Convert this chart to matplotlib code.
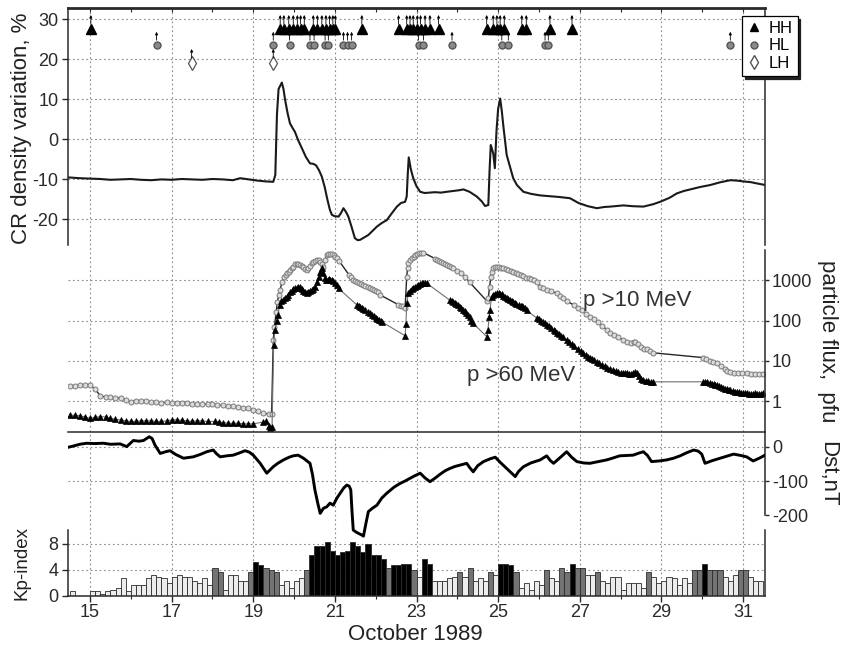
import numpy as np
import matplotlib
matplotlib.use("Agg")
import matplotlib.pyplot as plt
from matplotlib.lines import Line2D

plt.rcParams["font.family"] = ["Liberation Sans", "DejaVu Sans"]
plt.rcParams["axes.unicode_minus"] = False

# ---------------------------------------------------------------- data
# Cosmic-ray density variation (%), day of October 1989
CR = [
    (14.46, -9.6), (14.75, -9.8), (15.0, -9.9), (15.25, -10.0), (15.5, -10.2),
    (15.75, -10.1), (16.0, -10.0), (16.25, -10.2), (16.5, -10.3), (16.75, -10.1),
    (17.0, -10.2), (17.25, -10.0), (17.5, -10.1), (17.75, -10.2), (18.0, -10.0),
    (18.25, -10.1), (18.5, -10.3), (18.68, -9.8), (18.9, -10.1), (19.1, -10.4),
    (19.3, -10.6), (19.49, -10.7), (19.54, -9.0), (19.58, 6.0), (19.62, 12.5),
    (19.70, 14.1), (19.74, 12.5), (19.78, 9.8), (19.84, 6.5), (19.90, 3.9),
    (19.96, 2.8), (20.02, 1.8), (20.10, -0.3), (20.19, -2.3), (20.29, -4.5),
    (20.39, -6.1), (20.47, -6.2), (20.54, -6.6), (20.61, -7.8), (20.68, -9.4),
    (20.75, -12.0), (20.82, -15.3), (20.88, -17.8), (20.93, -19.0), (21.00, -19.3),
    (21.09, -19.4), (21.15, -18.5), (21.21, -17.3), (21.27, -18.2), (21.33, -19.4),
    (21.41, -22.0), (21.49, -24.8), (21.56, -25.3), (21.62, -25.2), (21.72, -24.6),
    (21.82, -24.0), (21.92, -23.0), (22.03, -21.9), (22.15, -21.0), (22.27, -20.3),
    (22.40, -18.5), (22.52, -16.9), (22.62, -16.0), (22.72, -15.7), (22.76, -14.4),
    (22.79, -8.0), (22.81, -4.6), (22.83, -5.8), (22.86, -7.5), (22.92, -9.8),
    (23.00, -11.8), (23.09, -13.2), (23.20, -13.5), (23.33, -13.4), (23.45, -13.3),
    (23.60, -13.4), (23.74, -13.2), (23.90, -13.0), (24.05, -12.8), (24.15, -12.6),
    (24.30, -13.2), (24.48, -14.4), (24.60, -15.6), (24.68, -16.75), (24.76, -16.5),
    (24.79, -8.0), (24.82, -1.5), (24.85, -2.5), (24.88, -3.6), (24.92, -7.3),
    (24.96, 2.0), (25.00, 7.5), (25.05, 10.1), (25.09, 7.0), (25.13, 3.1),
    (25.17, -0.5), (25.21, -4.0), (25.28, -6.5), (25.37, -9.8), (25.46, -11.5),
    (25.62, -13.2), (25.80, -13.7), (26.03, -14.1), (26.27, -14.3), (26.50, -14.5),
    (26.76, -14.8), (26.97, -16.0), (27.20, -16.8), (27.42, -17.3), (27.60, -17.0),
    (27.75, -16.9), (28.07, -16.6), (28.30, -16.8), (28.56, -16.9), (28.80, -16.3),
    (28.97, -15.7), (29.20, -14.7), (29.38, -13.6), (29.55, -13.0), (29.71, -12.6),
    (29.95, -12.0), (30.20, -11.5), (30.45, -10.8), (30.69, -10.3), (30.85, -10.4),
    (31.01, -10.6), (31.20, -10.8), (31.34, -11.1), (31.54, -11.5),
]

# GLE / FD event onsets grouped by class
HH_DAYS = [15.02, 19.66, 19.75, 19.87, 19.98, 20.08, 20.16, 20.25, 20.47, 20.57,
           20.68, 20.78, 20.87, 20.95, 21.01, 21.66, 22.56, 22.76, 22.84, 22.92,
           23.02, 23.10, 23.21, 23.33, 23.54, 24.72, 24.88, 24.97, 25.05, 25.15,
           25.58, 25.69, 26.27, 26.81]
HL_DAYS = [16.63, 19.49, 19.89, 20.39, 20.49, 20.76, 20.84, 21.21, 21.31, 21.41,
           23.05, 23.17, 23.87, 25.09, 25.25, 26.15, 26.23, 30.69]
LH_DAYS = [17.49, 19.49]

# GOES proton flux, pfu
P10 = [
    (14.50, 2.35), (14.62, 2.40), (14.75, 2.45), (14.88, 2.50), (15.00, 2.50),
    (15.12, 2.00), (15.25, 1.35), (15.38, 1.25), (15.50, 1.23), (15.62, 1.20),
    (15.75, 1.17), (15.88, 1.07), (16.00, 0.96), (16.12, 1.00), (16.25, 1.02),
    (16.38, 1.00), (16.50, 0.95), (16.62, 0.93), (16.75, 0.91), (16.88, 0.93),
    (17.00, 0.91), (17.12, 0.89), (17.25, 0.91), (17.38, 0.87), (17.50, 0.84),
    (17.62, 0.85), (17.75, 0.83), (17.88, 0.84), (18.00, 0.83), (18.12, 0.79),
    (18.25, 0.78), (18.38, 0.76), (18.50, 0.74), (18.62, 0.71), (18.75, 0.68),
    (18.88, 0.66), (19.00, 0.60), (19.12, 0.55), (19.25, 0.49), (19.38, 0.48),
    (19.45, 0.47), (19.49, 33), (19.52, 71), (19.56, 160), (19.59, 295),
    (19.63, 430), (19.66, 577), (19.70, 900), (19.75, 1240), (19.79, 1400),
    (19.83, 1500), (19.87, 1650), (19.90, 1820), (19.94, 2000), (19.98, 2200),
    (20.02, 2500), (20.06, 2550), (20.10, 2500), (20.15, 2450), (20.19, 2250),
    (20.23, 2100), (20.27, 1950), (20.31, 1820), (20.35, 2000), (20.39, 2300),
    (20.43, 2700), (20.47, 2900), (20.52, 3100), (20.56, 3300), (20.60, 3200),
    (20.64, 2900), (20.68, 2600), (20.72, 2200), (20.76, 3200), (20.80, 4300),
    (20.84, 4500), (20.88, 4600), (20.92, 4500), (20.97, 4200), (21.01, 3900),
    (21.05, 3550), (21.10, 3100), (21.35, 1350), (21.40, 1200), (21.45, 1050),
    (21.50, 980), (21.55, 930), (21.60, 880), (21.65, 820), (21.70, 760),
    (21.75, 720), (21.80, 680), (21.85, 640), (21.90, 600), (21.95, 570),
    (22.00, 545), (22.05, 520), (22.10, 440), (22.55, 250), (22.62, 235),
    (22.68, 225), (22.72, 205), (22.76, 1230), (22.78, 2000), (22.80, 2700),
    (22.84, 3200), (22.88, 3550), (22.93, 3900), (22.97, 4270), (23.02, 4600),
    (23.07, 4750), (23.12, 4850), (23.17, 4900), (23.45, 3500), (23.50, 3250),
    (23.55, 3050), (23.60, 2900), (23.65, 2750), (23.70, 2600), (23.75, 2450),
    (23.80, 2300), (23.85, 2150), (23.90, 2000), (24.00, 1750), (24.10, 1500),
    (24.20, 1200), (24.30, 900), (24.72, 310), (24.76, 360), (24.79, 690),
    (24.82, 1200), (24.85, 1600), (24.88, 2000), (24.92, 2100), (24.97, 2150),
    (25.02, 2120), (25.07, 2080), (25.13, 2000), (25.19, 1900), (25.25, 1780),
    (25.31, 1700), (25.37, 1600), (25.43, 1550), (25.49, 1480), (25.55, 1400),
    (25.62, 1250), (25.68, 1180), (25.75, 1120), (25.81, 1060), (25.87, 1000),
    (25.95, 900), (26.03, 700), (26.10, 650), (26.20, 575), (26.30, 530),
    (26.44, 480), (26.52, 420), (26.60, 355), (26.70, 300), (26.85, 245),
    (26.95, 210), (27.05, 180), (27.15, 150), (27.25, 126), (27.35, 107),
    (27.45, 90), (27.55, 75), (27.66, 59), (27.75, 50), (27.85, 45),
    (27.95, 38), (28.07, 33), (28.15, 30), (28.25, 28), (28.32, 30),
    (28.36, 30), (28.42, 26), (28.50, 22), (28.57, 20), (28.64, 19.5),
    (28.72, 17.5), (28.80, 15.8), (30.03, 12), (30.10, 11), (30.18, 10),
    (30.27, 9.5), (30.36, 8.7), (30.45, 7.5), (30.55, 6.3), (30.62, 5.6),
    (30.69, 5.4), (30.78, 5.1), (30.88, 5.0), (30.98, 4.9), (31.09, 4.9),
    (31.20, 4.8), (31.30, 4.8), (31.40, 4.7), (31.50, 4.7),
]

P60 = [
    (14.50, 0.45), (14.62, 0.44), (14.75, 0.43), (14.88, 0.40), (15.00, 0.37),
    (15.12, 0.39), (15.25, 0.41), (15.38, 0.40), (15.50, 0.37), (15.62, 0.35),
    (15.75, 0.34), (15.88, 0.32), (16.00, 0.31), (16.12, 0.31), (16.25, 0.32),
    (16.38, 0.32), (16.50, 0.32), (16.62, 0.31), (16.75, 0.31), (16.88, 0.32),
    (17.00, 0.34), (17.12, 0.34), (17.25, 0.33), (17.38, 0.32), (17.50, 0.31),
    (17.62, 0.32), (17.75, 0.32), (17.88, 0.31), (18.05, 0.31), (18.15, 0.30),
    (18.25, 0.29), (18.38, 0.28), (18.50, 0.28), (18.62, 0.28), (18.75, 0.27),
    (18.88, 0.27), (19.00, 0.27), (19.25, 0.30), (19.32, 0.31), (19.38, 0.24),
    (19.42, 0.21), (19.46, 0.22), (19.50, 25), (19.53, 59), (19.57, 100),
    (19.60, 138), (19.65, 245), (19.69, 300), (19.72, 330), (19.77, 360),
    (19.82, 390), (19.86, 440), (19.90, 500), (19.94, 550), (19.98, 600),
    (20.02, 630), (20.06, 650), (20.10, 670), (20.15, 690), (20.19, 620),
    (20.23, 560), (20.27, 520), (20.31, 490), (20.35, 510), (20.40, 540),
    (20.44, 580), (20.47, 600), (20.51, 700), (20.55, 900), (20.60, 1230),
    (20.64, 1600), (20.68, 2000), (20.72, 1500), (20.75, 1150), (20.78, 1020),
    (20.82, 1050), (20.85, 1060), (20.88, 1040), (20.92, 1020), (20.96, 950),
    (21.00, 850), (21.04, 750), (21.09, 630), (21.54, 245), (21.58, 235),
    (21.62, 220), (21.66, 210), (21.70, 195), (21.75, 180), (21.80, 165),
    (21.85, 152), (21.90, 140), (21.95, 130), (22.00, 118), (22.04, 110),
    (22.08, 102), (22.12, 97), (22.15, 93), (22.72, 42), (22.74, 80),
    (22.76, 270), (22.80, 480), (22.84, 560), (22.88, 600), (22.92, 630),
    (22.96, 680), (23.00, 720), (23.04, 760), (23.08, 800), (23.13, 850),
    (23.17, 870), (23.21, 860), (23.25, 850), (23.82, 320), (23.86, 305),
    (23.90, 290), (23.94, 270), (23.98, 255), (24.02, 240), (24.06, 220),
    (24.10, 200), (24.14, 185), (24.18, 170), (24.22, 155), (24.26, 140),
    (24.30, 120), (24.34, 100), (24.39, 85), (24.72, 40), (24.75, 59),
    (24.78, 120), (24.80, 180), (24.84, 390), (24.88, 430), (24.92, 460),
    (24.97, 480), (25.01, 480), (25.05, 470), (25.09, 450), (25.13, 420),
    (25.17, 385), (25.21, 355), (25.25, 335), (25.30, 320), (25.34, 305),
    (25.37, 295), (25.41, 275), (25.45, 260), (25.50, 245), (25.55, 230),
    (25.59, 225), (25.62, 220), (25.66, 200), (25.70, 180), (25.95, 115),
    (26.00, 108), (26.05, 100), (26.10, 92), (26.15, 85), (26.20, 79),
    (26.25, 72), (26.30, 65), (26.36, 59), (26.40, 54), (26.45, 50),
    (26.50, 46), (26.55, 42), (26.60, 38), (26.68, 33), (26.74, 29),
    (26.80, 26), (26.87, 23), (26.95, 20), (27.02, 17.5), (27.09, 15.5),
    (27.15, 14), (27.20, 12.5), (27.25, 11.8), (27.30, 11), (27.36, 10.2),
    (27.42, 9.5), (27.48, 8.8), (27.55, 8.0), (27.62, 7.3), (27.68, 6.8),
    (27.75, 6.3), (27.82, 5.9), (27.88, 5.6), (27.95, 5.3), (28.00, 5.1),
    (28.05, 4.9), (28.10, 4.9), (28.15, 4.9), (28.20, 4.8), (28.25, 4.8),
    (28.30, 5.0), (28.35, 5.2), (28.40, 5.0), (28.45, 4.3), (28.50, 3.6),
    (28.56, 3.3), (28.62, 3.2), (28.68, 3.1), (28.74, 3.0), (28.80, 3.0),
    (30.03, 3.0), (30.08, 2.95), (30.13, 2.9), (30.18, 2.8), (30.23, 2.7),
    (30.28, 2.6), (30.32, 2.55), (30.36, 2.5), (30.41, 2.35), (30.45, 2.2),
    (30.50, 2.1), (30.55, 2.0), (30.60, 1.95), (30.65, 1.9), (30.69, 1.86),
    (30.75, 1.78), (30.80, 1.7), (30.85, 1.68), (30.90, 1.65), (30.95, 1.62),
    (31.00, 1.6), (31.05, 1.57), (31.09, 1.55), (31.15, 1.52), (31.20, 1.5),
    (31.25, 1.52), (31.30, 1.55), (31.35, 1.52), (31.40, 1.5), (31.45, 1.52),
    (31.50, 1.55),
]

# Dst index, nT
DST = [
    (14.46, -1), (14.60, 3), (14.75, 8), (14.92, 11), (15.10, 10), (15.33, 11),
    (15.50, 8), (15.74, 9), (15.90, 1), (16.06, 19), (16.20, 17), (16.31, 19),
    (16.45, 30), (16.52, 25), (16.59, 6), (16.72, -19), (16.85, -14), (16.96, -11),
    (17.10, -22), (17.29, -33), (17.53, -29), (17.70, -22), (17.86, -14), (18.02, -9),
    (18.10, -20), (18.19, -29), (18.35, -26), (18.51, -24), (18.65, -18), (18.80, -11),
    (18.90, -15), (19.00, -24), (19.17, -48), (19.33, -77), (19.49, -58), (19.60, -48),
    (19.74, -38), (19.88, -30), (19.98, -26), (20.10, -24), (20.23, -33), (20.39, -48),
    (20.45, -80), (20.51, -126), (20.58, -165), (20.64, -195), (20.72, -180),
    (20.80, -176), (20.88, -165), (20.96, -171), (21.05, -150), (21.13, -136),
    (21.22, -120), (21.29, -112), (21.35, -115), (21.39, -126), (21.42, -190),
    (21.45, -244), (21.52, -250), (21.58, -254), (21.65, -258), (21.70, -262),
    (21.76, -225), (21.82, -190), (21.92, -180), (22.03, -171), (22.15, -150),
    (22.27, -136), (22.45, -118), (22.60, -107), (22.72, -100), (22.84, -92),
    (22.95, -85), (23.09, -77), (23.20, -90), (23.33, -102), (23.45, -92),
    (23.58, -80), (23.70, -70), (23.82, -63), (23.95, -57), (24.07, -53),
    (24.23, -48), (24.30, -60), (24.39, -73), (24.50, -55), (24.64, -43),
    (24.80, -35), (24.93, -30), (25.05, -45), (25.21, -63), (25.32, -75),
    (25.42, -87), (25.50, -72), (25.62, -58), (25.80, -47), (26.03, -38),
    (26.19, -26), (26.28, -40), (26.36, -48), (26.50, -33), (26.68, -14),
    (26.80, -30), (26.93, -43), (27.10, -47), (27.25, -48), (27.45, -43),
    (27.66, -38), (27.80, -33), (27.98, -26), (28.15, -25), (28.31, -24),
    (28.45, -18), (28.56, -14), (28.66, -25), (28.76, -43), (28.95, -41),
    (29.13, -38), (29.30, -33), (29.46, -26), (29.62, -17), (29.79, -9),
    (29.90, -12), (29.99, -21), (30.07, -48), (30.25, -40), (30.44, -33),
    (30.60, -27), (30.77, -21), (30.95, -25), (31.09, -29), (31.25, -41),
    (31.40, -33), (31.54, -24),
]

# 3-hourly Kp, starting 14 Oct 12 UT
KP_START = 14.5
KP = [
    0.7, 0.0, 0.0, 0.0,
    0.7, 0.7, 0.3, 0.7, 1.0, 1.3, 2.7, 0.7,
    1.7, 1.7, 1.7, 2.7, 3.3, 3.0, 2.7, 2.0,
    3.0, 3.3, 3.0, 3.0, 2.3, 2.0, 2.7, 1.7,
    4.3, 3.7, 1.0, 3.3, 3.3, 2.3, 2.3, 3.7,
    5.3, 4.7, 4.3, 4.0, 3.7, 1.7, 2.3, 1.3,
    2.3, 2.7, 4.0, 6.3, 7.7, 7.7, 8.3, 7.0,
    6.3, 6.7, 7.0, 8.3, 7.7, 6.7, 8.0, 6.3,
    6.3, 5.7, 4.3, 4.7, 4.7, 5.0, 5.0, 4.0,
    3.0, 5.7, 5.0, 2.3, 2.3, 2.3, 2.7, 3.0,
    3.7, 3.0, 4.3, 2.3, 2.7, 2.3, 3.7, 3.3,
    5.0, 5.0, 4.7, 3.7, 1.3, 2.0, 1.0, 2.3,
    1.7, 4.0, 2.7, 2.3, 4.3, 3.7, 5.0, 4.3,
    4.3, 3.3, 3.3, 3.7, 2.3, 2.0, 3.0, 3.0,
    1.0, 2.0, 2.0, 2.0, 1.3, 3.7, 3.0, 2.0,
    2.3, 3.0, 2.7, 1.7, 2.7, 2.0, 4.0, 4.0,
    5.0, 4.0, 4.0, 4.0, 3.0, 2.3, 3.3, 4.0,
    4.0, 3.0, 2.3, 2.3,
]

DAY_TICKS = [15, 17, 19, 21, 23, 25, 27, 29, 31]
CR_TICKS = [30, 20, 10, 0, -10, -20]
FLUX_TICKS = [1, 10, 100, 1000]
DST_TICKS = [0, -100, -200]
KP_TICKS = [0, 4, 8]

# ---------------------------------------------------------------- layout
W, H = 845, 649
X0, X1 = 68, 765
DAY0, DAY1 = 14.46, 31.54
GRID = dict(color="#8a8a8a", lw=0.8, ls=(0, (1.5, 2.5)), zorder=0)
SPINE = "#2a2a2a"


def box(top, bottom):
    """Axes rectangle from pixel rows of the frame."""
    return [X0 / W, 1 - bottom / H, (X1 - X0) / W, (bottom - top) / H]


def strip(ax, keep):
    for side, sp in ax.spines.items():
        sp.set_visible(side in keep)
        sp.set_color(SPINE)
        sp.set_linewidth(1.1)
    ax.set_xlim(DAY0, DAY1)


fig = plt.figure(figsize=(W / 100, H / 100), dpi=100)

# vertical day grid across all panels
bg = fig.add_axes(box(8, 596))
bg.set_xlim(DAY0, DAY1)
bg.axis("off")
for d in DAY_TICKS:
    bg.axvline(d, **GRID)

# --- CR panel
cr_day, cr_val = np.array(CR).T
ax_cr = fig.add_axes(box(8, 245), facecolor="none")
strip(ax_cr, ("left", "top", "right"))
ax_cr.spines["top"].set_linewidth(2.0)
ax_cr.set_ylim(-26.5, 32.75)
for v in CR_TICKS:
    ax_cr.axhline(v, **GRID)
ax_cr.plot(cr_day, cr_val, color="#1a1a1a", lw=1.5)
ax_cr.set_yticks(CR_TICKS)
ax_cr.set_yticklabels([str(v) for v in CR_TICKS])
ax_cr.tick_params(axis="y", labelsize=13, length=4, width=1, pad=3, colors=SPINE)
ax_cr.set_xticks(np.arange(15, 32))
ax_cr.tick_params(axis="x", bottom=False, top=True, labelbottom=False,
                  direction="in", length=3, width=0.8, colors=SPINE)

# event markers with small upward arrows
events = [
    (HH_DAYS, 27.5, 31.0, dict(marker="^", ms=7, mfc="black", mec="black")),
    (HL_DAYS, 23.5, 26.8, dict(marker="o", ms=5, mfc="#8a8a8a", mec="#555555")),
    (LH_DAYS, 19.0, 22.5, dict(marker="d", ms=7, mfc="white", mec="#555555", mew=0.9)),
]
for days, level, tip, style in events:
    for d in days:
        ax_cr.annotate("", xy=(d, tip), xytext=(d, level + 1.2),
                       arrowprops=dict(arrowstyle="-|>", lw=0.6, color="black",
                                       mutation_scale=4, shrinkA=0, shrinkB=0))
    ax_cr.plot(days, [level] * len(days), ls="none", **style)

handles = [
    Line2D([], [], ls="none", marker="^", ms=6, mfc="black", mec="black", label="HH"),
    Line2D([], [], ls="none", marker="o", ms=5, mfc="#8a8a8a", mec="#555555", label="HL"),
    Line2D([], [], ls="none", marker="d", ms=7, mfc="white", mec="#555555", label="LH"),
]
leg = ax_cr.legend(handles=handles, loc="upper left", bbox_to_anchor=(742 / W, 1 - 16 / H),
                   bbox_transform=fig.transFigure, fontsize=12, frameon=True,
                   fancybox=False, shadow={"color": "#222222", "alpha": 1.0},
                   handlelength=0.8, handletextpad=0.5, labelspacing=0.15,
                   borderpad=0.3, borderaxespad=0)
leg.get_frame().set_edgecolor("black")
leg.get_frame().set_linewidth(0.9)

# --- particle flux panel
p10_day, p10_pfu = np.array(P10).T
p60_day, p60_pfu = np.array(P60).T
ax_fx = fig.add_axes(box(250, 432), facecolor="none")
strip(ax_fx, ("right", "bottom"))
ax_fx.set_yscale("log")
ax_fx.set_ylim(10 ** -0.771, 10 ** 3.756)
for v in FLUX_TICKS:
    ax_fx.axhline(v, **GRID)
ax_fx.plot(p10_day, p10_pfu, color="#262626", lw=1.0, marker="o", ms=3.6,
           mfc="#dcdcdc", mec="#7a7a7a", mew=0.7)
ax_fx.plot(p60_day, p60_pfu, color="#707070", lw=0.8, marker="^", ms=4.2,
           mfc="black", mec="black", mew=0.5)
ax_fx.yaxis.tick_right()
ax_fx.set_yticks(FLUX_TICKS)
ax_fx.set_yticklabels([str(v) for v in FLUX_TICKS])
ax_fx.yaxis.set_minor_locator(matplotlib.ticker.NullLocator())
ax_fx.tick_params(axis="y", labelsize=13, length=3, width=1, pad=2, colors=SPINE)
ax_fx.tick_params(axis="x", bottom=False, labelbottom=False)
ax_fx.text(27.08, 325, "p >10 MeV", fontsize=16, color="#333333", va="center", ha="left")
ax_fx.text(24.24, 4.2, "p >60 MeV", fontsize=16, color="#333333", va="center", ha="left")

# --- Kp panel
kp = np.array(KP)
kp_day = KP_START + 0.125 * np.arange(len(kp))
kp_colors = np.where(kp >= 4.6, "black", np.where(kp >= 3.6, "#737373", "#ececec"))
ax_kp = fig.add_axes(box(530, 596), facecolor="none")
strip(ax_kp, ("left", "bottom", "right"))
ax_kp.set_ylim(0, 66 / 6.5)
for v in KP_TICKS[1:]:
    ax_kp.axhline(v, **GRID)
ax_kp.bar(kp_day, kp, width=0.125, align="edge", color=kp_colors,
          edgecolor="#2b2b2b", linewidth=0.6, zorder=2)
ax_kp.set_yticks(KP_TICKS)
ax_kp.tick_params(axis="y", labelsize=13, length=4, width=1, pad=3, colors=SPINE)
ax_kp.set_xticks(DAY_TICKS)
ax_kp.set_xticks(np.arange(16, 32, 2), minor=True)
ax_kp.tick_params(axis="x", which="major", labelsize=13, length=4, width=1, pad=2, colors=SPINE)
ax_kp.tick_params(axis="x", which="minor", length=2, width=0.8, colors=SPINE)

# --- Dst panel
dst_day, dst_nt = np.array(DST).T
ax_dst = fig.add_axes(box(432, 545), facecolor="none")
strip(ax_dst, ("right",))
ax_dst.set_ylim(-288, 44)
ax_dst.spines["right"].set_bounds(-200, 44)
for v in DST_TICKS[:2]:
    ax_dst.axhline(v, **GRID)
ax_dst.plot(dst_day, dst_nt, color="black", lw=2.1, zorder=3)
ax_dst.yaxis.tick_right()
ax_dst.set_yticks(DST_TICKS)
ax_dst.set_yticklabels([str(v) for v in DST_TICKS])
ax_dst.tick_params(axis="y", labelsize=13, length=3, width=1, pad=2, colors=SPINE)
ax_dst.tick_params(axis="x", bottom=False, labelbottom=False)

# --- axis titles
fig.text(22 / W, 1 - 128 / H, "CR density variation, %", rotation=90,
         ha="center", va="center", fontsize=16, color="#222222")
fig.text(22 / W, 1 - 563 / H, "Kp-index", rotation=90,
         ha="center", va="center", fontsize=13.5, color="#222222")
fig.text(828 / W, 1 - 341 / H, "particle flux,  pfu", rotation=270,
         ha="center", va="center", fontsize=16, color="#222222")
fig.text(828 / W, 1 - 474 / H, "Dst,nT", rotation=270,
         ha="center", va="center", fontsize=16, color="#222222")
fig.text(415 / W, 1 - 635 / H, "October 1989", ha="center", va="center",
         fontsize=16, color="#222222")

fig.savefig("out.png", dpi=100)
